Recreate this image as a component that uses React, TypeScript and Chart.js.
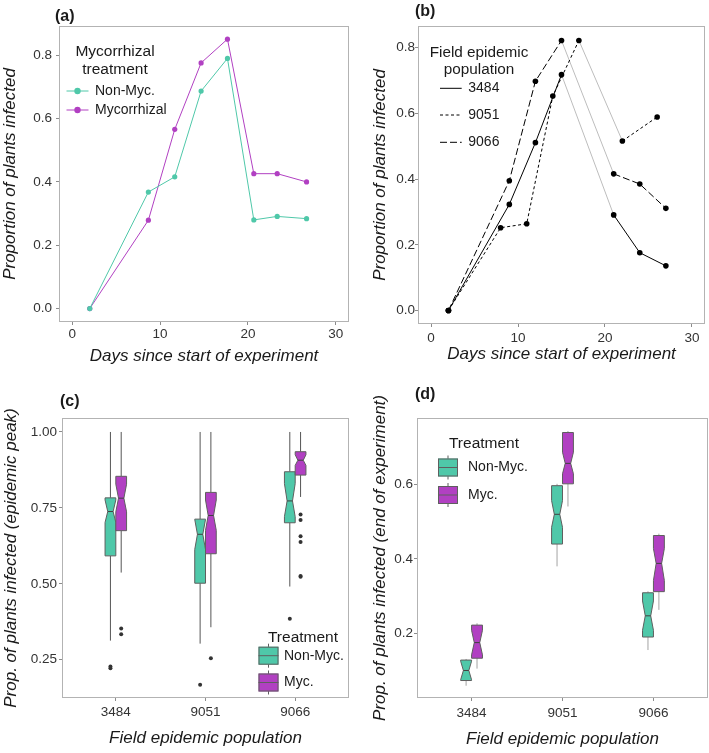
import React, { useEffect, useRef } from 'react';
import { Chart, registerables } from 'chart.js';

Chart.register(...registerables);

const FONT = '"Liberation Sans", Arial, Helvetica, sans-serif';
const TEAL = '#4fc8a9';
const MAGENTA = '#b140c2';
const GRAY_LINE = '#bdbdbd';
const BORDER = '#b3b3b3';
const TICK_COLOR = '#333333';
const TEXT_COLOR = '#1a1a1a';

// ---------------- data: panel (a) ----------------
const dayTicks = [0, 10, 20, 30];
const sampleDaysA = [2, 8.67, 11.67, 14.67, 17.67, 20.67, 23.33, 26.67];
const propNonMycA = [0, 0.368, 0.416, 0.687, 0.79, 0.28, 0.291, 0.284];
const propMycA = [0, 0.279, 0.566, 0.776, 0.851, 0.426, 0.426, 0.4];
const propTicks = [0, 0.2, 0.4, 0.6, 0.8];

// ---------------- data: panel (b) ----------------
const days3484 = [2, 9, 12, 15, 21, 24, 27];
const prop3484 = [0, 0.323, 0.511, 0.718, 0.291, 0.176, 0.136];
const days9051 = [2, 8, 11, 14, 17, 22, 26];
const prop9051 = [0, 0.252, 0.264, 0.653, 0.822, 0.516, 0.589];
const days9066 = [2, 9, 12, 15, 21, 24, 27];
const prop9066 = [0, 0.395, 0.698, 0.822, 0.416, 0.385, 0.311];

// ---------------- data: panels (c), (d) ----------------
const populations = ['3484', '9051', '9066'];
// each row: [lower whisker, Q1, notch low, median, notch high, Q3, upper whisker]
const peakNonMyc = [
  [0.313, 0.592, 0.702, 0.738, 0.776, 0.783, 1.0],
  [0.303, 0.502, 0.613, 0.663, 0.712, 0.713, 1.0],
  [0.491, 0.701, 0.721, 0.773, 0.83, 0.869, 1.0],
];
const peakMyc = [
  [0.537, 0.675, 0.737, 0.782, 0.828, 0.854, 1.0],
  [0.357, 0.599, 0.676, 0.725, 0.776, 0.801, 1.0],
  [0.786, 0.858, 0.89, 0.907, 0.925, 0.935, 1.0],
];
const peakOutliersNonMyc = [[0.222, 0.228], [0.168], [0.385]];
const peakOutliersMyc = [[0.353, 0.334], [0.255], [0.728, 0.71, 0.657, 0.638, 0.526, 0.523]];
const peakTicks = [0.25, 0.5, 0.75, 1.0];

const endNonMyc = [
  [0.059, 0.073, 0.075, 0.1, 0.125, 0.128, 0.131],
  [0.38, 0.44, 0.485, 0.52, 0.557, 0.597, 0.602],
  [0.155, 0.19, 0.208, 0.247, 0.287, 0.309, 0.313],
];
const endMyc = [
  [0.105, 0.133, 0.142, 0.175, 0.208, 0.222, 0.227],
  [0.541, 0.602, 0.629, 0.657, 0.687, 0.74, 0.744],
  [0.263, 0.312, 0.342, 0.388, 0.428, 0.463, 0.468],
];
const endTicks = [0.2, 0.4, 0.6];

// ---------------- layout ----------------
type Area = { l: number; t: number; r: number; b: number };
type Layout = { x: number; y: number; w: number; h: number; area: Area };

const LAYOUT_A: Layout = { x: 0, y: 0, w: 355, h: 380, area: { l: 59, t: 26, r: 349, b: 322 } };
const LAYOUT_B: Layout = { x: 355, y: 0, w: 354, h: 380, area: { l: 63, t: 26, r: 353, b: 324 } };
const LAYOUT_C: Layout = { x: 0, y: 380, w: 355, h: 373, area: { l: 62, t: 38, r: 349, b: 318 } };
const LAYOUT_D: Layout = { x: 355, y: 380, w: 354, h: 373, area: { l: 62, t: 38, r: 353, b: 318 } };

const BOX_W = 0.12;
const DODGE = 0.06;

type AxisSpec = {
  min: number;
  max: number;
  ticks: number[];
  fmt: (v: number) => string;
  title: string;
  titlePad: number;
  tickPad: number;
};

function scaleOpts(spec: AxisSpec, isX: boolean, size: number) {
  return {
    type: 'linear',
    min: spec.min,
    max: spec.max,
    afterBuildTicks: (s: any) => {
      s.ticks = spec.ticks.map((v) => ({ value: v }));
    },
    afterFit: (s: any) => {
      if (isX) s.height = size;
      else s.width = size;
    },
    grid: {
      drawOnChartArea: false,
      drawTicks: true,
      tickLength: 3,
      tickWidth: 1,
      tickColor: '#8c8c8c',
    },
    border: { display: false },
    ticks: {
      padding: spec.tickPad,
      color: TICK_COLOR,
      autoSkip: false,
      maxRotation: 0,
      font: { family: FONT, size: 13.5 },
      callback: (v: any) => spec.fmt(Number(v)),
    },
    title: {
      display: true,
      text: spec.title,
      color: TEXT_COLOR,
      font: { family: FONT, size: 17, style: 'italic', lineHeight: 1.2 },
      padding: isX ? { top: 0, bottom: spec.titlePad } : { top: spec.titlePad, bottom: 0 },
    },
  };
}

function baseOptions(L: Layout, xs: any, ys: any) {
  return {
    animation: false,
    responsive: false,
    maintainAspectRatio: false,
    layout: { padding: { top: L.area.t, right: L.w - L.area.r, left: 0, bottom: 0 } },
    plugins: { legend: { display: false }, tooltip: { enabled: false } },
    events: [],
    scales: {
      x: scaleOpts(xs, true, L.h - L.area.b),
      y: scaleOpts(ys, false, L.area.l),
    },
  };
}

function text(ctx: CanvasRenderingContext2D, s: string, x: number, y: number, size: number, align: CanvasTextAlign = 'left', weight = 'normal') {
  ctx.save();
  ctx.font = `${weight} ${size}px ${FONT}`;
  ctx.fillStyle = TEXT_COLOR;
  ctx.textAlign = align;
  ctx.textBaseline = 'middle';
  ctx.fillText(s, x, y);
  ctx.restore();
}

function decorPlugin(label: string, lx: number, ly: number, drawLegend: (ctx: CanvasRenderingContext2D) => void) {
  return {
    id: 'decor' + label,
    afterDraw(chart: any) {
      const { ctx, chartArea: a } = chart;
      ctx.save();
      ctx.strokeStyle = BORDER;
      ctx.lineWidth = 1;
      ctx.strokeRect(Math.round(a.left) + 0.5, Math.round(a.top) + 0.5, Math.round(a.right - a.left) - 1, Math.round(a.bottom - a.top) - 1);
      ctx.restore();
      text(ctx, label, lx, ly, 16, 'left', 'bold');
      drawLegend(ctx);
    },
  };
}

function notchedBoxPlugin(groups: { stats: number[][]; offset: number; color: string }[], whiskerColor: string) {
  return {
    id: 'notchedBoxes',
    beforeDatasetsDraw(chart: any) {
      const { ctx } = chart;
      const xs = chart.scales.x;
      const ys = chart.scales.y;
      const py = (v: number) => ys.getPixelForValue(v);
      ctx.save();
      groups.forEach((g) => {
        g.stats.forEach((s, i) => {
          const [lo, q1, nLo, med, nHi, q3, hi] = s;
          const c = i + 1 + g.offset;
          const xl = xs.getPixelForValue(c - BOX_W / 2);
          const xr = xs.getPixelForValue(c + BOX_W / 2);
          const xc = xs.getPixelForValue(c);
          const ind = (xr - xl) * 0.25;
          ctx.lineWidth = 1;
          ctx.strokeStyle = whiskerColor;
          ctx.beginPath();
          ctx.moveTo(xc, py(hi));
          ctx.lineTo(xc, py(q3));
          ctx.moveTo(xc, py(q1));
          ctx.lineTo(xc, py(lo));
          ctx.stroke();
          ctx.beginPath();
          ctx.moveTo(xl, py(q3));
          ctx.lineTo(xl, py(nHi));
          ctx.lineTo(xl + ind, py(med));
          ctx.lineTo(xl, py(nLo));
          ctx.lineTo(xl, py(q1));
          ctx.lineTo(xr, py(q1));
          ctx.lineTo(xr, py(nLo));
          ctx.lineTo(xr - ind, py(med));
          ctx.lineTo(xr, py(nHi));
          ctx.lineTo(xr, py(q3));
          ctx.closePath();
          ctx.fillStyle = g.color;
          ctx.fill();
          ctx.strokeStyle = '#5f5f5f';
          ctx.stroke();
          ctx.beginPath();
          ctx.strokeStyle = '#3f3f3f';
          ctx.moveTo(xl + ind, py(med));
          ctx.lineTo(xr - ind, py(med));
          ctx.stroke();
        });
      });
      ctx.restore();
    },
  };
}

function drawBoxKey(ctx: CanvasRenderingContext2D, x: number, cy: number, color: string) {
  const w = 20;
  const h = 18;
  ctx.save();
  ctx.strokeStyle = '#5f5f5f';
  ctx.lineWidth = 1;
  ctx.beginPath();
  ctx.moveTo(x + w / 2, cy - h / 2 - 3);
  ctx.lineTo(x + w / 2, cy + h / 2 + 3);
  ctx.stroke();
  ctx.fillStyle = color;
  ctx.fillRect(x, cy - h / 2, w, h);
  ctx.strokeRect(x + 0.5, cy - h / 2 + 0.5, w - 1, h - 1);
  ctx.beginPath();
  ctx.moveTo(x, cy);
  ctx.lineTo(x + w, cy);
  ctx.stroke();
  ctx.restore();
}

function pts(xv: number[], yv: number[]) {
  return xv.map((x, i) => ({ x, y: yv[i] }));
}

// ---------------- chart builders ----------------
function buildA() {
  const xs: AxisSpec = { min: -1.5, max: 31.5, ticks: dayTicks, fmt: (v) => String(v), title: 'Days since start of experiment', titlePad: 13.8, tickPad: 1 };
  const ys: AxisSpec = { min: -0.0425, max: 0.8925, ticks: propTicks, fmt: (v) => v.toFixed(1), title: 'Proportion of plants infected', titlePad: 0, tickPad: 4 };
  const mk = (label: string, y: number[], color: string) => ({
    label,
    data: pts(sampleDaysA, y),
    showLine: true,
    borderColor: color,
    backgroundColor: color,
    borderWidth: 1,
    pointRadius: 2.6,
    pointBorderWidth: 0,
    pointBackgroundColor: color,
  });
  return {
    type: 'scatter',
    data: { datasets: [mk('Non-Myc.', propNonMycA, TEAL), mk('Mycorrhizal', propMycA, MAGENTA)] },
    options: baseOptions(LAYOUT_A, xs, ys),
    plugins: [
      decorPlugin('(a)', 55, 16.5, (ctx) => {
        text(ctx, 'Mycorrhizal', 115, 51.7, 15.5, 'center');
        text(ctx, 'treatment', 115, 70, 15.5, 'center');
        const entries = [
          { t: 'Non-Myc.', c: TEAL, y: 91 },
          { t: 'Mycorrhizal', c: MAGENTA, y: 110 },
        ];
        entries.forEach((e) => {
          ctx.save();
          ctx.strokeStyle = e.c;
          ctx.lineWidth = 1;
          ctx.beginPath();
          ctx.moveTo(66.5, e.y);
          ctx.lineTo(88.5, e.y);
          ctx.stroke();
          ctx.fillStyle = e.c;
          ctx.beginPath();
          ctx.arc(77.5, e.y, 3.2, 0, Math.PI * 2);
          ctx.fill();
          ctx.restore();
          text(ctx, e.t, 95, e.y, 14);
        });
      }),
    ],
  };
}

function buildB() {
  const xs: AxisSpec = { min: -1.5, max: 31.5, ticks: dayTicks, fmt: (v) => String(v), title: 'Days since start of experiment', titlePad: 15.8, tickPad: 3 };
  const ys: AxisSpec = { min: -0.041, max: 0.866, ticks: propTicks, fmt: (v) => v.toFixed(1), title: 'Proportion of plants infected', titlePad: 14.8, tickPad: 0 };
  const mk = (label: string, d: number[], y: number[], dash: number[]) => {
    const peak = y.indexOf(Math.max(...y));
    return {
      label,
      data: pts(d, y),
      showLine: true,
      borderColor: '#000',
      backgroundColor: '#000',
      borderWidth: 1,
      borderDash: dash,
      pointRadius: 2.8,
      pointBorderWidth: 0,
      pointBackgroundColor: '#000',
      segment: {
        borderColor: (c: any) => (c.p0DataIndex === peak ? GRAY_LINE : '#000'),
        borderDash: (c: any) => (c.p0DataIndex === peak ? [] : dash),
      },
    };
  };
  const dashes: Record<string, number[]> = { '3484': [], '9051': [3, 2.5], '9066': [7, 3] };
  return {
    type: 'scatter',
    data: {
      datasets: [
        mk('3484', days3484, prop3484, dashes['3484']),
        mk('9051', days9051, prop9051, dashes['9051']),
        mk('9066', days9066, prop9066, dashes['9066']),
      ],
    },
    options: baseOptions(LAYOUT_B, xs, ys),
    plugins: [
      decorPlugin('(b)', 60, 12, (ctx) => {
        text(ctx, 'Field epidemic', 124, 52.3, 15.3, 'center');
        text(ctx, 'population', 124, 69.5, 15.3, 'center');
        const entries = [
          { t: '3484', y: 88.3 },
          { t: '9051', y: 115 },
          { t: '9066', y: 142.3 },
        ];
        entries.forEach((e) => {
          ctx.save();
          ctx.strokeStyle = '#000';
          ctx.lineWidth = 1;
          ctx.setLineDash(dashes[e.t]);
          ctx.beginPath();
          ctx.moveTo(85, e.y);
          ctx.lineTo(106.7, e.y);
          ctx.stroke();
          ctx.restore();
          text(ctx, e.t, 113.3, e.y, 14);
        });
      }),
    ],
  };
}

function outlierPoints(out: number[][], offset: number) {
  const res: { x: number; y: number }[] = [];
  out.forEach((arr, i) => arr.forEach((v) => res.push({ x: i + 1 + offset, y: v })));
  return res;
}

function buildBoxChart(
  L: Layout,
  nonMyc: number[][],
  myc: number[][],
  outNon: number[][],
  outMyc: number[][],
  yMin: number,
  yMax: number,
  yTicks: number[],
  yFmt: (v: number) => string,
  yTitle: string,
  pads: { xt: number; xk: number; yt: number; yk: number },
  whiskerColor: string,
  label: string,
  labelY: number,
  legend: { tx: number; ty: number; kx: number; k1: number; k2: number; textX: number }
) {
  const xs: AxisSpec = { min: 0.4, max: 3.6, ticks: [1, 2, 3], fmt: (v) => populations[Math.round(v) - 1] ?? '', title: 'Field epidemic population', titlePad: pads.xt, tickPad: pads.xk };
  const ys: AxisSpec = { min: yMin, max: yMax, ticks: yTicks, fmt: yFmt, title: yTitle, titlePad: pads.yt, tickPad: pads.yk };
  return {
    type: 'scatter',
    data: {
      datasets: [
        {
          label: 'Non-Myc. outliers',
          data: outlierPoints(outNon, -DODGE),
          pointRadius: 2,
          pointBorderWidth: 0,
          pointBackgroundColor: '#333',
          backgroundColor: '#333',
        },
        {
          label: 'Myc. outliers',
          data: outlierPoints(outMyc, DODGE),
          pointRadius: 2,
          pointBorderWidth: 0,
          pointBackgroundColor: '#333',
          backgroundColor: '#333',
        },
      ],
    },
    options: baseOptions(L, xs, ys),
    plugins: [
      notchedBoxPlugin(
        [
          { stats: nonMyc, offset: -DODGE, color: TEAL },
          { stats: myc, offset: DODGE, color: MAGENTA },
        ],
        whiskerColor
      ),
      decorPlugin(label, 60, labelY, (ctx) => {
        text(ctx, 'Treatment', legend.tx, legend.ty, 15.5, 'center');
        drawBoxKey(ctx, legend.kx, legend.k1, TEAL);
        drawBoxKey(ctx, legend.kx, legend.k2, MAGENTA);
        text(ctx, 'Non-Myc.', legend.textX, legend.k1, 14);
        text(ctx, 'Myc.', legend.textX, legend.k2, 14);
      }),
    ],
  };
}

function buildC() {
  return buildBoxChart(
    LAYOUT_C,
    peakNonMyc,
    peakMyc,
    peakOutliersNonMyc,
    peakOutliersMyc,
    0.124,
    1.046,
    peakTicks,
    (v) => v.toFixed(2),
    'Prop. of plants infected (epidemic peak)',
    { xt: 4.5, xk: 3, yt: 0.8, yk: 2 },
    '#555555',
    '(c)',
    22,
    { tx: 303, ty: 258, kx: 258.5, k1: 275.7, k2: 302.5, textX: 284 }
  );
}

function buildD() {
  return buildBoxChart(
    LAYOUT_D,
    endNonMyc,
    endMyc,
    [[], [], []],
    [[], [], []],
    0.026,
    0.779,
    endTicks,
    (v) => v.toFixed(1),
    'Prop. of plants infected (end of experiment)',
    { xt: 3.5, xk: 4, yt: 14.8, yk: 1 },
    '#a3a3a3',
    '(d)',
    15,
    { tx: 129, ty: 64, kx: 83, k1: 87.5, k2: 115, textX: 113 }
  );
}

function ChartPanel({ layout, build }: { layout: Layout; build: () => any }) {
  const ref = useRef<HTMLCanvasElement>(null);
  useEffect(() => {
    if (!ref.current) return;
    const chart = new Chart(ref.current, build());
    return () => chart.destroy();
  }, []);
  return (
    <div style={{ position: 'absolute', left: layout.x, top: layout.y, width: layout.w, height: layout.h }}>
      <canvas ref={ref} width={layout.w} height={layout.h} style={{ width: layout.w, height: layout.h, display: 'block' }} />
    </div>
  );
}

export default function App() {
  return (
    <div style={{ position: 'absolute', left: 0, top: 0, width: 709, height: 753, background: '#ffffff', overflow: 'hidden' }}>
      <ChartPanel layout={LAYOUT_A} build={buildA} />
      <ChartPanel layout={LAYOUT_B} build={buildB} />
      <ChartPanel layout={LAYOUT_C} build={buildC} />
      <ChartPanel layout={LAYOUT_D} build={buildD} />
    </div>
  );
}
